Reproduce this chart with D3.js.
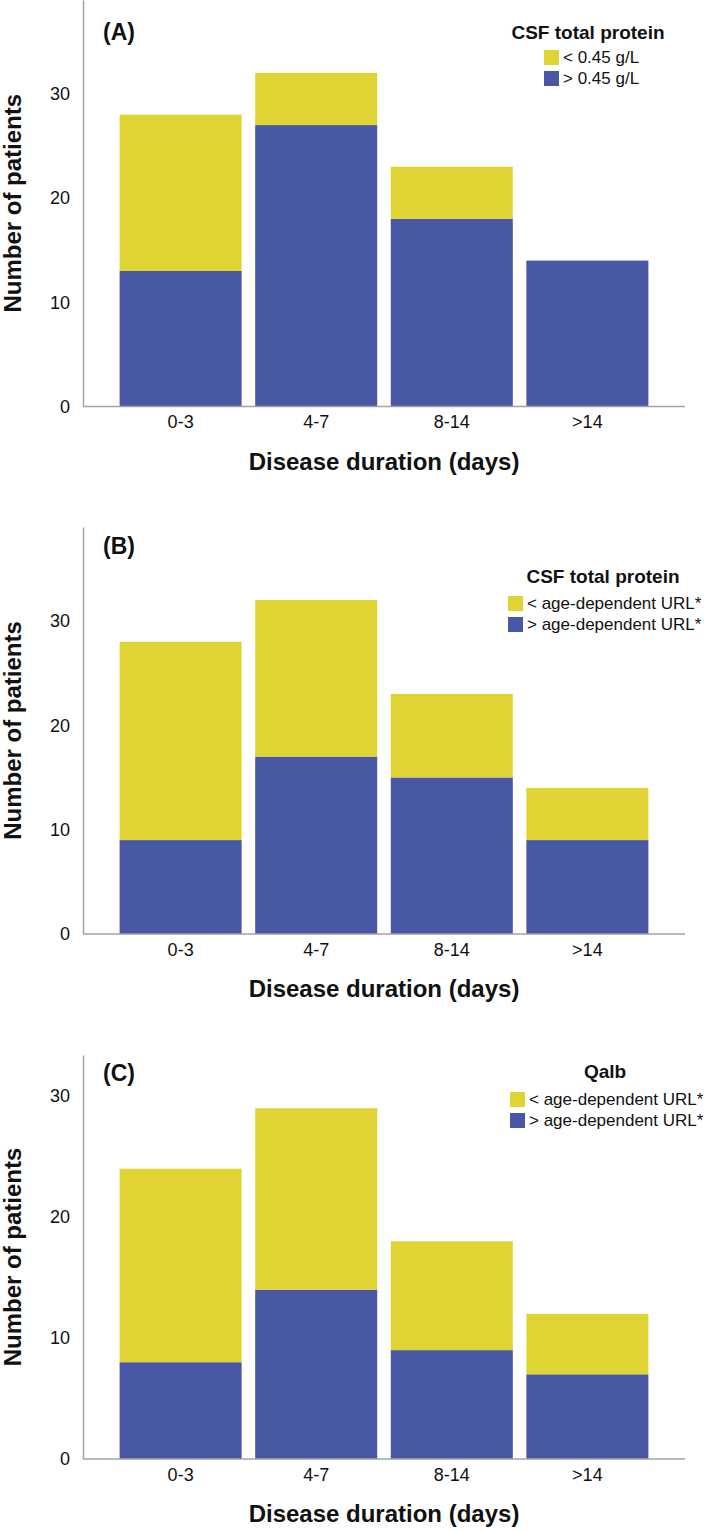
<!DOCTYPE html>
<html>
<head>
<meta charset="utf-8">
<script src="https://cdn.jsdelivr.net/npm/d3@7"></script>
<style>
  html, body { margin: 0; padding: 0; background: #fff; }
  svg { display: block; font-family: "Liberation Sans", Arial, Helvetica, sans-serif; }
</style>
</head>
<body>
<svg id="chart" width="709" height="1531"></svg>
<script>
// ---- Data ----
const categories = ["0-3", "4-7", "8-14", ">14"];
const yTicks = [0, 10, 20, 30];

// Panel A: CSF total protein vs 0.45 g/L
const aAbove = [13, 27, 18, 14];
const aBelow = [15, 5, 5, 0];
// Panel B: CSF total protein vs age-dependent URL
const bAbove = [9, 17, 15, 9];
const bBelow = [19, 15, 8, 5];
// Panel C: Qalb vs age-dependent URL
const cAbove = [8, 14, 9, 7];
const cBelow = [16, 15, 9, 5];

const panelLabels = ["(A)", "(B)", "(C)"];
const legendTitles = ["CSF total protein", "CSF total protein", "Qalb"];
const legendBelow = ["< 0.45 g/L", "< age-dependent URL*", "< age-dependent URL*"];
const legendAbove = ["> 0.45 g/L", "> age-dependent URL*", "> age-dependent URL*"];
const yMaxes = [39, 39, 33.4];

const xTitle = "Disease duration (days)";
const yTitle = "Number of patients";

// ---- Layout / style ----
const COLORS = { below: "#DFD434", above: "#4858A5", axis: "#a3a3a3" };
const layout = [
  { top: 0,    zero: 406.5, label: 40,   legTitleX: 588, legTitleY: 39,   swX: 544, swY: 50 },
  { top: 527,  zero: 934,   label: 554,  legTitleX: 603, legTitleY: 583,  swX: 508, swY: 596 },
  { top: 1055, zero: 1459,  label: 1081, legTitleX: 605, legTitleY: 1078, swX: 510, swY: 1092 }
];
const X0 = 83, X1 = 685;

const svg = d3.select("#chart");
const series = [[aAbove, aBelow], [bAbove, bBelow], [cAbove, cBelow]];

series.forEach(([above, below], i) => {
  const L = layout[i];
  const g = svg.append("g");

  const x = d3.scaleBand().domain(categories).range([X0, X1])
    .paddingInner(0.1).paddingOuter(0.27);
  const y = d3.scaleLinear().domain([0, yMaxes[i]]).range([L.zero, L.top]);

  const rows = categories.map((c, k) => ({ cat: c, above: above[k], below: below[k] }));
  const stacked = d3.stack().keys(["above", "below"])(rows);

  g.selectAll("g.layer").data(stacked).join("g")
    .attr("fill", d => COLORS[d.key])
    .selectAll("rect").data(d => d).join("rect")
    .attr("x", d => x(d.data.cat))
    .attr("width", x.bandwidth())
    .attr("y", d => y(d[1]))
    .attr("height", d => Math.max(0, y(d[0]) - y(d[1])));

  // y axis
  const yAxis = d3.axisLeft(y).tickValues(yTicks).tickSize(0).tickPadding(13);
  const ya = g.append("g").attr("transform", `translate(${X0},0)`).call(yAxis);
  ya.select(".domain").attr("stroke", COLORS.axis).attr("stroke-width", 1.5);
  ya.selectAll("text").attr("font-size", 18).attr("fill", "#111")
    .attr("font-family", "Liberation Sans, Arial, sans-serif");

  // x axis
  const xAxis = d3.axisBottom(x).tickSize(0).tickPadding(9);
  const xa = g.append("g").attr("transform", `translate(0,${L.zero})`).call(xAxis);
  xa.select(".domain").attr("stroke", COLORS.axis).attr("stroke-width", 1.5)
    .attr("d", `M${X0},0H${X1}`);
  xa.selectAll("text").attr("font-size", 18).attr("fill", "#111")
    .attr("font-family", "Liberation Sans, Arial, sans-serif");

  // titles
  g.append("text").attr("x", (X0 + X1) / 2).attr("y", L.zero + 63)
    .attr("text-anchor", "middle").attr("font-weight", "bold").attr("font-size", 24)
    .attr("fill", "#111").text(xTitle);
  g.append("text")
    .attr("transform", `translate(21,${(L.top + L.zero) / 2}) rotate(-90)`)
    .attr("text-anchor", "middle").attr("font-weight", "bold").attr("font-size", 24)
    .attr("fill", "#111").text(yTitle);

  // panel label
  g.append("text").attr("x", 103).attr("y", L.label)
    .attr("font-weight", "bold").attr("font-size", 23).attr("fill", "#111")
    .text(panelLabels[i]);

  // legend
  g.append("text").attr("x", L.legTitleX).attr("y", L.legTitleY)
    .attr("text-anchor", "middle").attr("font-weight", "bold").attr("font-size", 19)
    .attr("fill", "#111").text(legendTitles[i]);
  const items = [
    { key: "below", label: legendBelow[i] },
    { key: "above", label: legendAbove[i] }
  ];
  items.forEach((it, k) => {
    const yy = L.swY + k * 21;
    g.append("rect").attr("x", L.swX).attr("y", yy).attr("width", 15).attr("height", 15)
      .attr("fill", COLORS[it.key]);
    g.append("text").attr("x", L.swX + 19).attr("y", yy + 7.5).attr("dy", "0.35em")
      .attr("font-size", 17).attr("fill", "#111").text(it.label);
  });
});
</script>
</body>
</html>
